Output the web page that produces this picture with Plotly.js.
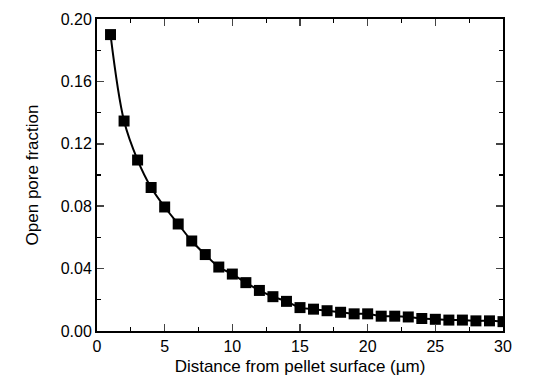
<!DOCTYPE html>
<html><head><meta charset="utf-8">
<script src="https://cdn.plot.ly/plotly-3.0.1.min.js"></script>
<style>html,body{margin:0;padding:0;background:#fff}</style>
</head><body>
<div id="chart" style="width:549px;height:382px"></div>
<script>
const distance = [1,2,3,4,5,6,7,8,9,10,11,12,13,14,15,16,17,18,19,20,21,22,23,24,25,26,27,28,29,30];
const poreFraction = [0.190,0.1346,0.1096,0.092,0.0795,0.0686,0.0577,0.049,0.041,0.0365,0.031,0.026,0.022,0.019,0.015,0.014,0.013,0.012,0.011,0.011,0.0095,0.0095,0.009,0.008,0.0075,0.007,0.007,0.0065,0.0065,0.006];
const xTickStep = 5;
const yTickStep = 0.04;

const tickFont = {family:'Liberation Sans, Arial, sans-serif', size:16, color:'#000'};
const titleFont = {family:'Liberation Sans, Arial, sans-serif', size:17, color:'#000'};
Plotly.newPlot('chart', [{
  x: distance, y: poreFraction, mode:'lines+markers', type:'scatter',
  line:{color:'#000', width:2, shape:'spline'},
  marker:{symbol:'square', size:11, color:'#000'}
}], {
  width:549, height:382,
  margin:{l:97, r:46, t:19, b:51},
  paper_bgcolor:'#fff', plot_bgcolor:'#fff',
  showlegend:false,
  font: tickFont,
  xaxis:{range:[0,30], tick0:0, dtick:xTickStep, ticks:'inside', ticklen:7, tickwidth:1.5, mirror:'ticks',
    showline:true, linecolor:'#000', linewidth:2, showgrid:false, zeroline:false,
    tickfont:tickFont, minor:{ticks:'inside', ticklen:4, tickwidth:1.2, dtick:xTickStep/2, tick0:0, tickcolor:'#000', showgrid:false},
    title:{text:'Distance from pellet surface (µm)', font:titleFont, standoff:6}},
  yaxis:{range:[0,0.2], tick0:0, dtick:yTickStep, tickformat:'.2f', ticks:'inside', ticklen:7, tickwidth:1.5, mirror:'ticks',
    showline:true, linecolor:'#000', linewidth:2, showgrid:false, zeroline:false,
    tickfont:tickFont, minor:{ticks:'inside', ticklen:4, tickwidth:1.2, dtick:yTickStep/2, tick0:0, tickcolor:'#000', showgrid:false},
    title:{text:'Open pore fraction', font:titleFont, standoff:18}}
}, {displayModeBar:false, staticPlot:true});
</script>
</body></html>
